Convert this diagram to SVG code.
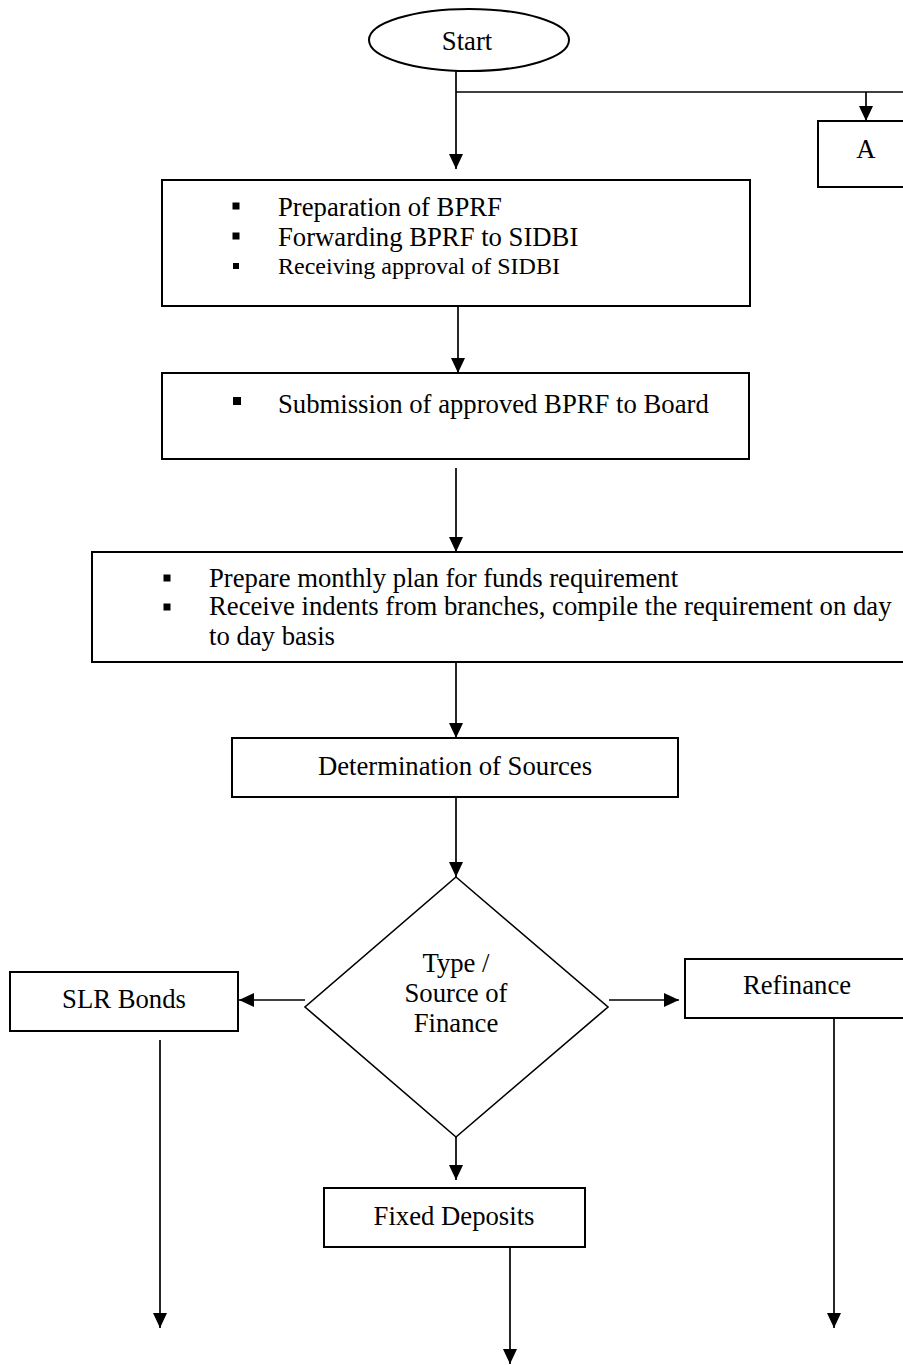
<svg xmlns="http://www.w3.org/2000/svg" width="903" height="1365" viewBox="0 0 903 1365">
<style>
.box{fill:#fff;stroke:#000;stroke-width:2}
.ln{fill:none;stroke:#000;stroke-width:1.7}
.t{font-family:"Liberation Serif","Times New Roman",serif;font-size:26.7px;fill:#000}
.c{text-anchor:middle}
.b{fill:#000}
</style>
<defs>
<marker id="ah" markerUnits="userSpaceOnUse" markerWidth="16" markerHeight="14" refX="15" refY="7" orient="auto">
<path d="M0,0 L15,7 L0,14 z" fill="#000"/>
</marker>
</defs>
<rect width="903" height="1365" fill="#fff"/>
<g id="connectors">
<path class="ln" d="M456,71 V169" marker-end="url(#ah)"/>
<path class="ln" d="M456,92 H910"/>
<path class="ln" d="M866,92 V121" marker-end="url(#ah)"/>
<path class="ln" d="M458,306 V373" marker-end="url(#ah)"/>
<path class="ln" d="M456,468 V552" marker-end="url(#ah)"/>
<path class="ln" d="M456,662 V738" marker-end="url(#ah)"/>
<path class="ln" d="M456,797 V877" marker-end="url(#ah)"/>
<path class="ln" d="M305,1000 H239" marker-end="url(#ah)"/>
<path class="ln" d="M609,1000 H679" marker-end="url(#ah)"/>
<path class="ln" d="M456,1137 V1180" marker-end="url(#ah)"/>
<path class="ln" d="M160,1040 V1328" marker-end="url(#ah)"/>
<path class="ln" d="M834,1018 V1328" marker-end="url(#ah)"/>
<path class="ln" d="M510,1247 V1364" marker-end="url(#ah)"/>
</g>
<g id="start">
<ellipse class="box" cx="469" cy="40" rx="100" ry="31"/>
<text class="t c" x="467" y="50">Start</text>
</g>
<g id="nodeA">
<rect class="box" x="818" y="121" width="100" height="66"/>
<text class="t c" x="866" y="158">A</text>
</g>
<g id="bprf">
<rect class="box" x="162" y="180" width="588" height="126"/>
<rect class="b" x="232.5" y="202.5" width="7" height="7"/>
<rect class="b" x="232.5" y="232.5" width="7" height="7"/>
<rect class="b" x="233" y="263" width="6" height="6"/>
<text class="t" x="278" y="216">Preparation of BPRF</text>
<text class="t" x="278" y="246">Forwarding BPRF to SIDBI</text>
<text class="t" x="278" y="274" style="font-size:24px">Receiving approval of SIDBI</text>
</g>
<g id="board">
<rect class="box" x="162" y="373" width="587" height="86"/>
<rect class="b" x="233" y="397" width="8" height="8"/>
<text class="t" x="278" y="413">Submission of approved BPRF to Board</text>
</g>
<g id="monthly">
<rect class="box" x="92" y="552" width="830" height="110"/>
<rect class="b" x="163.5" y="574.5" width="7" height="7"/>
<rect class="b" x="163.5" y="603.5" width="7" height="7"/>
<text class="t" x="209" y="587">Prepare monthly plan for funds requirement</text>
<text class="t" x="209" y="615">Receive indents from branches, compile the requirement on day</text>
<text class="t" x="209" y="645">to day basis</text>
</g>
<g id="sources">
<rect class="box" x="232" y="738" width="446" height="59"/>
<text class="t c" x="455" y="775">Determination of Sources</text>
</g>
<g id="decision">
<polygon class="box" points="456,877 608,1007 456,1137 305,1007" style="stroke-width:1.6"/>
<text class="t c" x="456" y="972">Type /</text>
<text class="t c" x="456" y="1002">Source of</text>
<text class="t c" x="456" y="1032">Finance</text>
</g>
<g id="slr">
<rect class="box" x="10" y="972" width="228" height="59"/>
<text class="t c" x="124" y="1008">SLR Bonds</text>
</g>
<g id="refinance">
<rect class="box" x="685" y="959" width="230" height="59"/>
<text class="t c" x="797" y="994">Refinance</text>
</g>
<g id="fd">
<rect class="box" x="324" y="1188" width="261" height="59"/>
<text class="t c" x="454" y="1225">Fixed Deposits</text>
</g>
</svg>
